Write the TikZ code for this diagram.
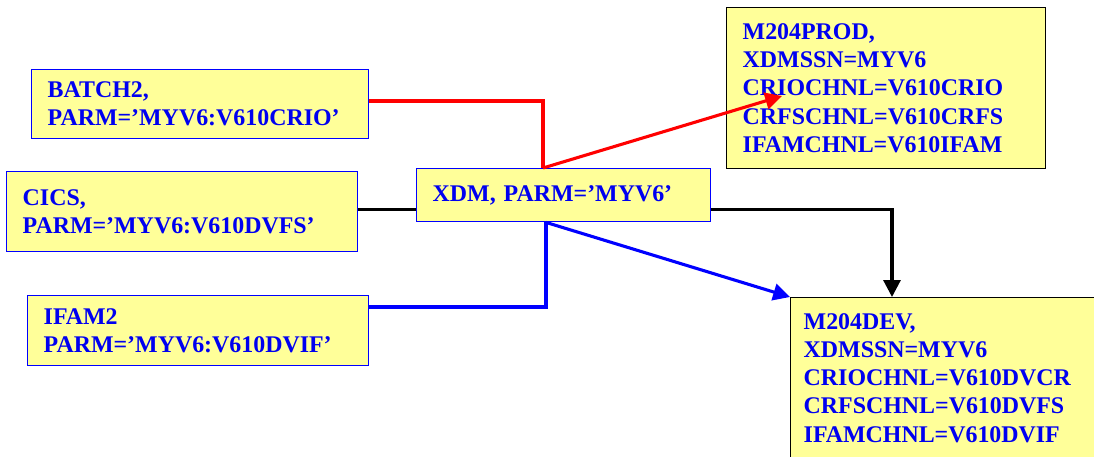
\documentclass[tikz,border=0pt]{standalone}
\usepackage{fontspec}
\setmainfont{Liberation Serif}
\usepackage{xcolor}
\usetikzlibrary{arrows.meta}
\definecolor{boxfill}{HTML}{FFFF99}
\definecolor{txtblue}{HTML}{0000F0}
\definecolor{lineblue}{HTML}{0000FF}
\definecolor{linered}{HTML}{FF0000}
\tikzset{
  jobbox/.style={draw=lineblue, line width=1pt, fill=boxfill, anchor=north west, align=left, inner xsep=0.4cm, inner ysep=0pt,
    text=txtblue, font=\bfseries\fontsize{17}{20}\selectfont},
  chnlbox/.style={jobbox, draw=black},
  jobline/.style={line width=2.2pt},
  jobarrow/.style={jobline, -{Triangle[length=0.42cm, width=0.42cm]}}
}

\begin{document}
\begin{tikzpicture}
  \useasboundingbox (0,0) rectangle (27.35,-11.425);
  \node[jobbox, text width=7.625cm, minimum height=1.725cm] (batch) at (0.775,-1.725) {BATCH2,\\PARM=’MYV6:V610CRIO’};
  \node[jobbox, text width=7.975cm, minimum height=2.0cm] (cics) at (0.15,-4.275) {CICS,\\PARM=’MYV6:V610DVFS’};
  \node[jobbox, text width=7.725cm, minimum height=1.75cm] (ifam) at (0.675,-7.375) {IFAM2\\PARM=’MYV6:V610DVIF’};
  \node[jobbox, text width=6.55cm, minimum height=1.325cm] (xdm) at (10.4,-4.2) {XDM, PARM=’MYV6’};
  \node[chnlbox, text width=7.175cm, minimum height=4.025cm] (prod) at (18.15,-0.175)
    {M204PROD,\\XDMSSN=MYV6\\CRIOCHNL=V610CRIO\\CRFSCHNL=V610CRFS\\IFAMCHNL=V610IFAM};
  \node[chnlbox, inner xsep=0.325cm, inner ysep=0.4cm, text width=7.5cm, text depth=4cm] (dev) at (19.75,-7.425)
    {M204DEV,\\XDMSSN=MYV6\\CRIOCHNL=V610DVCR\\CRFSCHNL=V610DVFS\\IFAMCHNL=V610DVIF};

  \coordinate (redtop) at ([xshift=3.175cm]xdm.north west);
  \coordinate (bluebot) at ([xshift=3.25cm]xdm.south west);
  \coordinate (redtip) at (19.55,-2.4);
  \coordinate (blacktip) at ([xshift=2.55cm]dev.north west);

  \draw[jobline, linered] ([yshift=0.08cm]batch.east) -| (redtop);
  \draw[jobarrow, linered] (redtop) -- (redtip);
  \draw[jobline, lineblue] ([yshift=-0.3cm]ifam.north east) -| (bluebot);
  \draw[jobarrow, lineblue] (bluebot) -- (dev.north west);
  \draw[jobline] ([yshift=0.05cm]cics.east) -- ([yshift=0.05cm]cics.east -| xdm.west);
  \draw[jobarrow] ([yshift=0.05cm]cics.east -| xdm.east) -| (blacktip);
\end{tikzpicture}
\end{document}
